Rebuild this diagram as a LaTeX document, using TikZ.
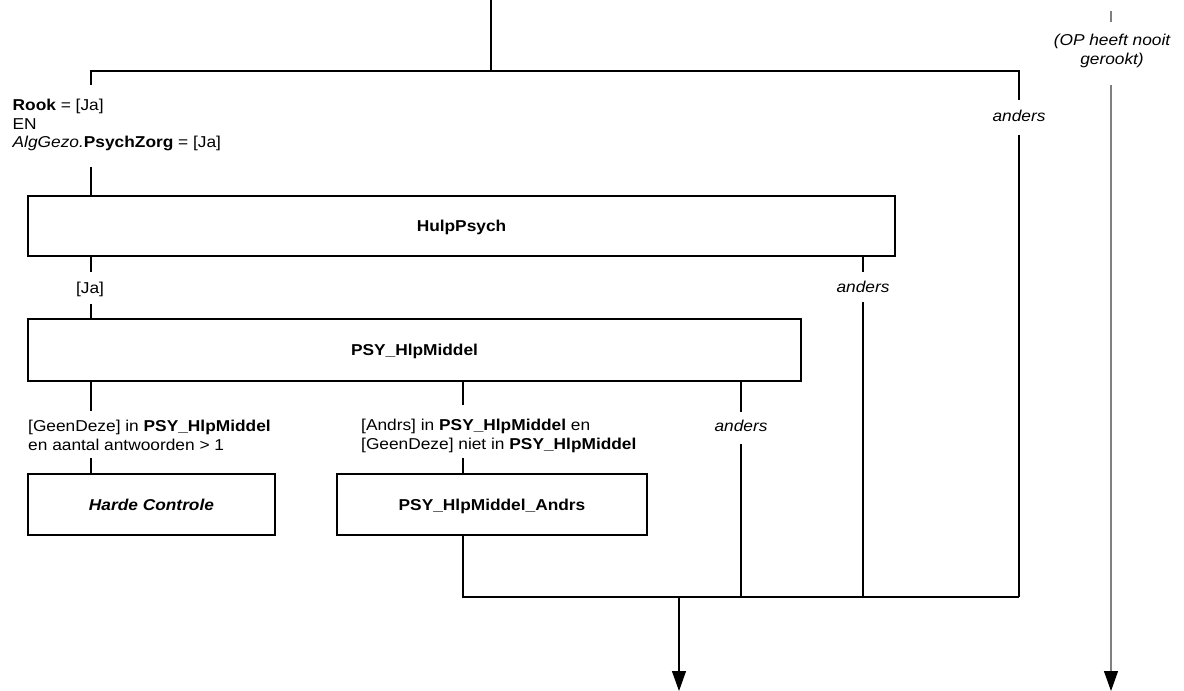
\documentclass[tikz,border=0pt]{standalone}
\usepackage{fontspec}
\setmainfont{Liberation Sans}[FakeStretch=1.1]
\usetikzlibrary{arrows.meta}
\definecolor{lgray}{HTML}{808080}
\newcommand{\fnt}{\fontsize{15.8}{18.5}\selectfont}
\begin{document}
\begin{tikzpicture}[x=1bp,y=-1bp,
  every node/.style={font=\fnt, inner sep=0pt},
  box/.style={draw, line width=1.2bp, font=\fnt\bfseries, text height=11.3bp, text depth=0pt},
  ln/.style={line width=1.2bp},
  lbl/.style={align=left, anchor=west},
  tx/.style={anchor=base},
  ital/.style={anchor=base, font=\fnt\itshape},
  arr/.style={-{Triangle[length=20bp,width=14bp]}}]
\useasboundingbox (0,0) rectangle (1184,691);

% boxes
\node[box, minimum width=867bp, minimum height=60bp] (hulp) at (461.5,226) {HulpPsych};
\node[box, minimum width=773bp, minimum height=62bp] (psy) at (414.5,350) {PSY\_HlpMiddel};
\node[box, minimum width=247bp, minimum height=61bp] (harde) at (151.5,504.5) {\itshape Harde Controle};
\node[box, minimum width=310bp, minimum height=61bp] (andrs) at (492,504.5) {PSY\_HlpMiddel\_Andrs};

% labels
\node[lbl] (rook) at (12.5,125.5) {\strut\textbf{Rook} = [Ja]\\\strut EN\\\strut\textit{AlgGezo.}\textbf{PsychZorg} = [Ja]};
\node[ital] (anders1) at (1019,121.5) {anders};
\node[tx] (ja) at (90,293.5) {[Ja]};
\node[ital] (anders2) at (863,292) {anders};
\node[lbl] (geen) at (28,437.5) {\strut[GeenDeze] in \textbf{PSY\_HlpMiddel}\\\strut en aantal antwoorden > 1};
\node[lbl] (andrl) at (361,436.5) {\strut[Andrs] in \textbf{PSY\_HlpMiddel} en\\\strut{}[GeenDeze] niet in \textbf{PSY\_HlpMiddel}};
\node[ital] (anders3) at (741,431.5) {anders};
\node[align=center, font=\fnt\itshape] (nooit) at (1112,51.5) {\strut(OP heeft nooit\\\strut gerookt)};

% coordinates
\coordinate (top) at (491,0);
\coordinate (jt) at (491,71);
\coordinate (jl) at (91,71);
\coordinate (jr) at (1019,71);
\coordinate (rk1) at (91,85);
\coordinate (rk2) at (91,167);
\coordinate (an1a) at (1019,100);
\coordinate (an1b) at (1019,135);
\coordinate (ja1) at (91,272);
\coordinate (ja2) at (91,304);
\coordinate (an2a) at (863,272);
\coordinate (an2b) at (863,302);
\coordinate (ge1) at (91,411);
\coordinate (ge2) at (91,458);
\coordinate (ad1) at (463,405);
\coordinate (ad2) at (463,458);
\coordinate (an3a) at (741,412);
\coordinate (an3b) at (741,444);
\coordinate (bl) at (463,597);
\coordinate (b3) at (741,597);
\coordinate (b2) at (863,597);
\coordinate (br) at (1019,597);
\coordinate (bm) at (679,597);
\coordinate (end) at (679,691);
\coordinate (g0) at (1111,11);
\coordinate (g1) at (1111,22);
\coordinate (g2) at (1111,85);
\coordinate (gend) at (1111,691);

% connectors
\draw[ln] (top) -- (jt);
\draw[ln] (rk1) -- (jl) -- (jr) -- (an1a);
\draw[ln] (rk2) -- (hulp.north -| rk2);
\draw[ln] (an1b) -- (br);
\draw[ln] (hulp.south -| ja1) -- (ja1);
\draw[ln] (ja2) -- (psy.north -| ja2);
\draw[ln] (hulp.south -| an2a) -- (an2a);
\draw[ln] (an2b) -- (b2);
\draw[ln] (psy.south -| ge1) -- (ge1);
\draw[ln] (ge2) -- (harde.north -| ge2);
\draw[ln] (psy.south -| ad1) -- (ad1);
\draw[ln] (ad2) -- (andrs.north -| ad2);
\draw[ln] (psy.south -| an3a) -- (an3a);
\draw[ln] (an3b) -- (b3);
\draw[ln] (andrs.south -| bl) -- (bl) -- (br);
\draw[ln, arr] (bm) -- (end);
\draw[ln, lgray] (g0) -- (g1);
\draw[ln, lgray, -{Triangle[length=20bp,width=14bp,color=black]}] (g2) -- (gend);
\end{tikzpicture}
\end{document}
